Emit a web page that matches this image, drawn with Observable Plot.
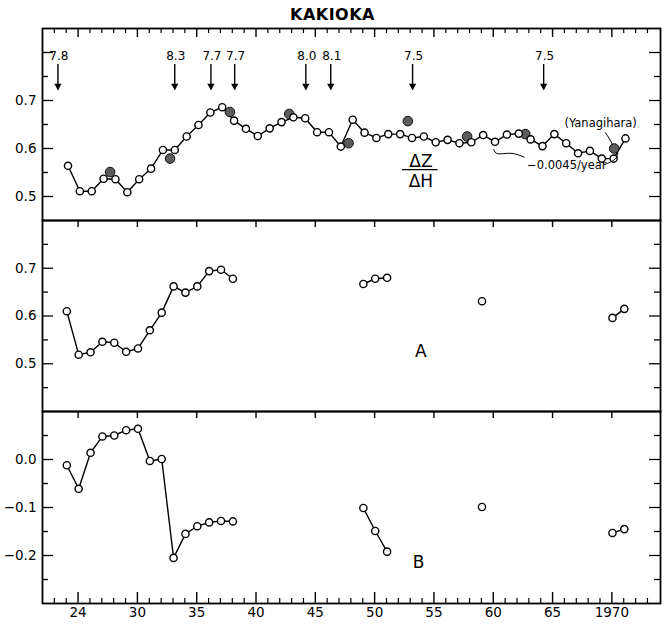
<!DOCTYPE html>
<html><head><meta charset="utf-8">
<script src="https://cdn.jsdelivr.net/npm/d3@7"></script>
<script src="https://cdn.jsdelivr.net/npm/@observablehq/plot@0.6"></script>
<style>
body{margin:0;background:#fff;}
#wrap{position:relative;width:665px;height:633px;font-family:"DejaVu Sans",sans-serif;background:#fff;}
#title{position:absolute;left:0;width:665px;top:5px;text-align:center;font-weight:bold;font-size:16px;letter-spacing:0.5px;z-index:2;color:#000;}
.panel{position:absolute;left:0;}
</style></head><body>
<div id="wrap"><div id="title">KAKIOKA</div></div>
<script>
// ---------- data ----------
const topYears = [24,25,26,27,28,29,30,31,32,33,34,35,36,37,38,39,40,41,42,43,44,45,46,47,48,49,50,51,52,53,54,55,56,57,58,59,60,61,62,63,64,65,66,67,68,69,70,71];
const topValues = [0.564,0.511,0.511,0.537,0.536,0.509,0.536,0.558,0.597,0.597,0.625,0.649,0.675,0.686,0.658,0.641,0.626,0.642,0.655,0.665,0.663,0.634,0.634,0.604,0.660,0.633,0.622,0.630,0.630,0.622,0.625,0.613,0.618,0.611,0.613,0.628,0.614,0.629,0.631,0.619,0.605,0.630,0.611,0.590,0.595,0.579,0.579,0.621];
const surveyYears = [27.7,32.75,37.8,42.8,47.8,52.8,57.8,62.7,70.2];
const surveyValues = [0.551,0.579,0.676,0.672,0.611,0.657,0.625,0.630,0.600];
const abYears = [24,25,26,27,28,29,30,31,32,33,34,35,36,37,38,49,50,51,59,70,71];
const aValues = [0.610,0.519,0.524,0.546,0.544,0.525,0.532,0.570,0.607,0.662,0.649,0.662,0.694,0.697,0.678,0.667,0.678,0.680,0.631,0.596,0.615];
const bValues = [-0.012,-0.061,0.014,0.048,0.050,0.061,0.064,-0.003,0.001,-0.205,-0.155,-0.139,-0.131,-0.128,-0.129,-0.101,-0.149,-0.192,-0.099,-0.153,-0.145];
const quakeYears = [23.3,33.15,36.2,38.2,44.2,46.3,53.2,64.25];
const quakeMags = ["7.8","8.3","7.7","7.7","8.0","8.1","7.5","7.5"];
const quakeArrow = [0.775, 0.722];   // shaft top, tip (value units)
const quakeLabelY = 0.793;
const TOP_OFFSET = 0.15, AB_OFFSET = 0.05; // plotted position within the year

// axes
const X_DOMAIN = [22, 74.1];
const xMajor = [25,30,35,40,45,50,55,60,65,70];
const xTickLabels = ["24","30","35","40","45","50","55","60","65","1970"];
const xMinor = d3.range(23, 74).filter(y => !xMajor.includes(y));
const topDomain = [0.45, 0.85], topMajor = [0.5,0.6,0.7,0.8], topMinor = [0.55,0.65,0.75], topLabels = [0.5,0.6,0.7];
const aDomain = [0.4, 0.8], aMajor = [0.5,0.6,0.7], aMinor = [0.45,0.55,0.65,0.75], aLabels = [0.5,0.6,0.7];
const bDomain = [-0.3, 0.1], bMajor = [-0.2,-0.1,0.0], bMinor = [-0.25,-0.15,-0.05,0.05], bLabels = [-0.2,-0.1,0.0];

// annotations (data units)
const ratioText = [{x: 53.9, y: 0.5735, t: "\u0394Z"}, {x: 53.9, y: 0.531, t: "\u0394H"}];
const ratioBar = [{x1: 52.35, x2: 55.35, y: 0.556}];
const yanaText = [{x: 69.05, y: 0.653, t: "(Yanagihara)"}];
const yanaLeader = [{x: 69.45, y: 0.633}, {x: 69.75, y: 0.622}, {x: 70.05, y: 0.608}];
const trendText = [{x: 66.2, y: 0.566, t: "\u22120.0045/year"}];
const trendLeft = [{x: 60.05, y: 0.598}, {x: 60.4, y: 0.589}, {x: 61.5, y: 0.590}, {x: 62.6, y: 0.582}];
const trendRight = [{x: 69.35, y: 0.566}, {x: 69.9, y: 0.572}, {x: 70.35, y: 0.580}, {x: 70.5, y: 0.590}];
const panelLabels = {A: {x: 53.9, y: 0.525}, B: {x: 53.7, y: -0.214}};

// ---------- build ----------
const W = 665, ML = 42, MR = 5, PW = W - ML - MR;
const FONT = "'DejaVu Sans', sans-serif";
const fmt = d3.format(".1f");

const topData = topYears.map((y, i) => ({x: y + TOP_OFFSET, v: topValues[i]}));
const surveyData = surveyYears.map((y, i) => ({x: y, v: surveyValues[i]}));
function segmented(vals) {
  let seg = 0;
  return abYears.map((y, i) => {
    if (i > 0 && y - abYears[i - 1] > 1) seg++;
    return {x: y + AB_OFFSET, v: vals[i], seg};
  });
}
const aData = segmented(aValues), bData = segmented(bValues);
const quakes = quakeYears.map((y, i) => ({x: y, m: quakeMags[i]}));

function frameTicks(PH, major, minor, topMode, bottomTicks) {
  const m = [
    Plot.ruleY(major, {y: d => d, insetRight: PW - 11, strokeWidth: 1.3}),
    Plot.ruleY(minor, {y: d => d, insetRight: PW - 6, strokeWidth: 1.3}),
    Plot.ruleY(major, {y: d => d, insetLeft: PW - 11, strokeWidth: 1.3}),
    Plot.ruleY(minor, {y: d => d, insetLeft: PW - 6, strokeWidth: 1.3}),
  ];
  if (topMode === "all") {
    m.push(Plot.ruleX(xMajor, {x: d => d, insetBottom: PH - 9, strokeWidth: 1.4}));
    m.push(Plot.ruleX(xMinor, {x: d => d, insetBottom: PH - 5, strokeWidth: 1.2}));
  } else {
    m.push(Plot.ruleX(xMajor, {x: d => d, insetBottom: PH - 7, strokeWidth: 1.4}));
  }
  if (bottomTicks) {
    m.push(Plot.ruleX(xMajor, {x: d => d, insetTop: PH - 11, strokeWidth: 1.4}));
    m.push(Plot.ruleX(xMinor, {x: d => d, insetTop: PH - 5, strokeWidth: 1.2}));
  }
  m.push(Plot.frame({stroke: "black", strokeWidth: 1.8}));
  return m;
}
function yLabels(labels) {
  return Plot.text(labels, {y: d => d, text: d => fmt(d), frameAnchor: "left", textAnchor: "end", dx: -6, fontSize: 13.5});
}
function makePanel(top, height, marginTop, marginBottom, domain, marks) {
  const svg = Plot.plot({
    width: W, height, marginLeft: ML, marginRight: MR, marginTop, marginBottom,
    x: {domain: X_DOMAIN, axis: null},
    y: {domain: domain, axis: null},
    style: {fontFamily: FONT, fontSize: "13px", background: "transparent", color: "black", overflow: "visible"},
    marks
  });
  svg.classList.add("panel");
  svg.style.top = top + "px";
  document.getElementById("wrap").appendChild(svg);
}

// Panel 1: dZ/dH
const PH1 = 192;
makePanel(0, 220, 28, 0, topDomain, [
  ...frameTicks(PH1, topMajor, topMinor, "all", false),
  yLabels(topLabels),
  Plot.ruleX(quakes, {x: "x", y1: quakeArrow[0], y2: quakeArrow[1], strokeWidth: 1.4}),
  Plot.dot(quakes, {x: "x", y: quakeArrow[1], symbol: "triangle", rotate: 180, r: 2.7, dy: -4, fill: "black", stroke: "none"}),
  Plot.text(quakes, {x: "x", y: quakeLabelY, text: "m", fontSize: 12, dx: 1}),
  Plot.line(topData, {x: "x", y: "v", strokeWidth: 1.4}),
  Plot.dot(surveyData, {x: "x", y: "v", r: 4.8, fill: "#5c5c5c", stroke: "#111", strokeWidth: 1}),
  Plot.dot(topData, {x: "x", y: "v", r: 3.6, fill: "white", stroke: "black", strokeWidth: 1.4}),
  Plot.text(ratioText, {x: "x", y: "y", text: "t", fontSize: 17}),
  Plot.ruleY(ratioBar, {x1: "x1", x2: "x2", y: "y", strokeWidth: 1.4}),
  Plot.text(yanaText, {x: "x", y: "y", text: "t", fontSize: 11.5}),
  Plot.line(yanaLeader, {x: "x", y: "y", curve: "natural", strokeWidth: 1}),
  Plot.text(trendText, {x: "x", y: "y", text: "t", fontSize: 11.5}),
  Plot.line(trendLeft, {x: "x", y: "y", curve: "natural", strokeWidth: 1}),
  Plot.line(trendRight, {x: "x", y: "y", curve: "natural", strokeWidth: 1})
]);

// Panel 2: A
const PH2 = 191;
makePanel(220, 191, 0, 0, aDomain, [
  ...frameTicks(PH2, aMajor, aMinor, "major", false),
  yLabels(aLabels),
  Plot.line(aData, {x: "x", y: "v", z: "seg", strokeWidth: 1.4}),
  Plot.dot(aData, {x: "x", y: "v", r: 3.6, fill: "white", stroke: "black", strokeWidth: 1.4}),
  Plot.text([panelLabels.A], {x: "x", y: "y", text: () => "A", fontSize: 17})
]);

// Panel 3: B
const PH3 = 192;
makePanel(411, 222, 0, 30, bDomain, [
  ...frameTicks(PH3, bMajor, bMinor, "major", true),
  yLabels(bLabels),
  Plot.text(xMajor, {x: d => d, text: d => xTickLabels[xMajor.indexOf(d)], frameAnchor: "bottom", lineAnchor: "top", dy: 4, fontSize: 13.5}),
  Plot.line(bData, {x: "x", y: "v", z: "seg", strokeWidth: 1.4}),
  Plot.dot(bData, {x: "x", y: "v", r: 3.6, fill: "white", stroke: "black", strokeWidth: 1.4}),
  Plot.text([panelLabels.B], {x: "x", y: "y", text: () => "B", fontSize: 17})
]);
</script>
</body></html>
